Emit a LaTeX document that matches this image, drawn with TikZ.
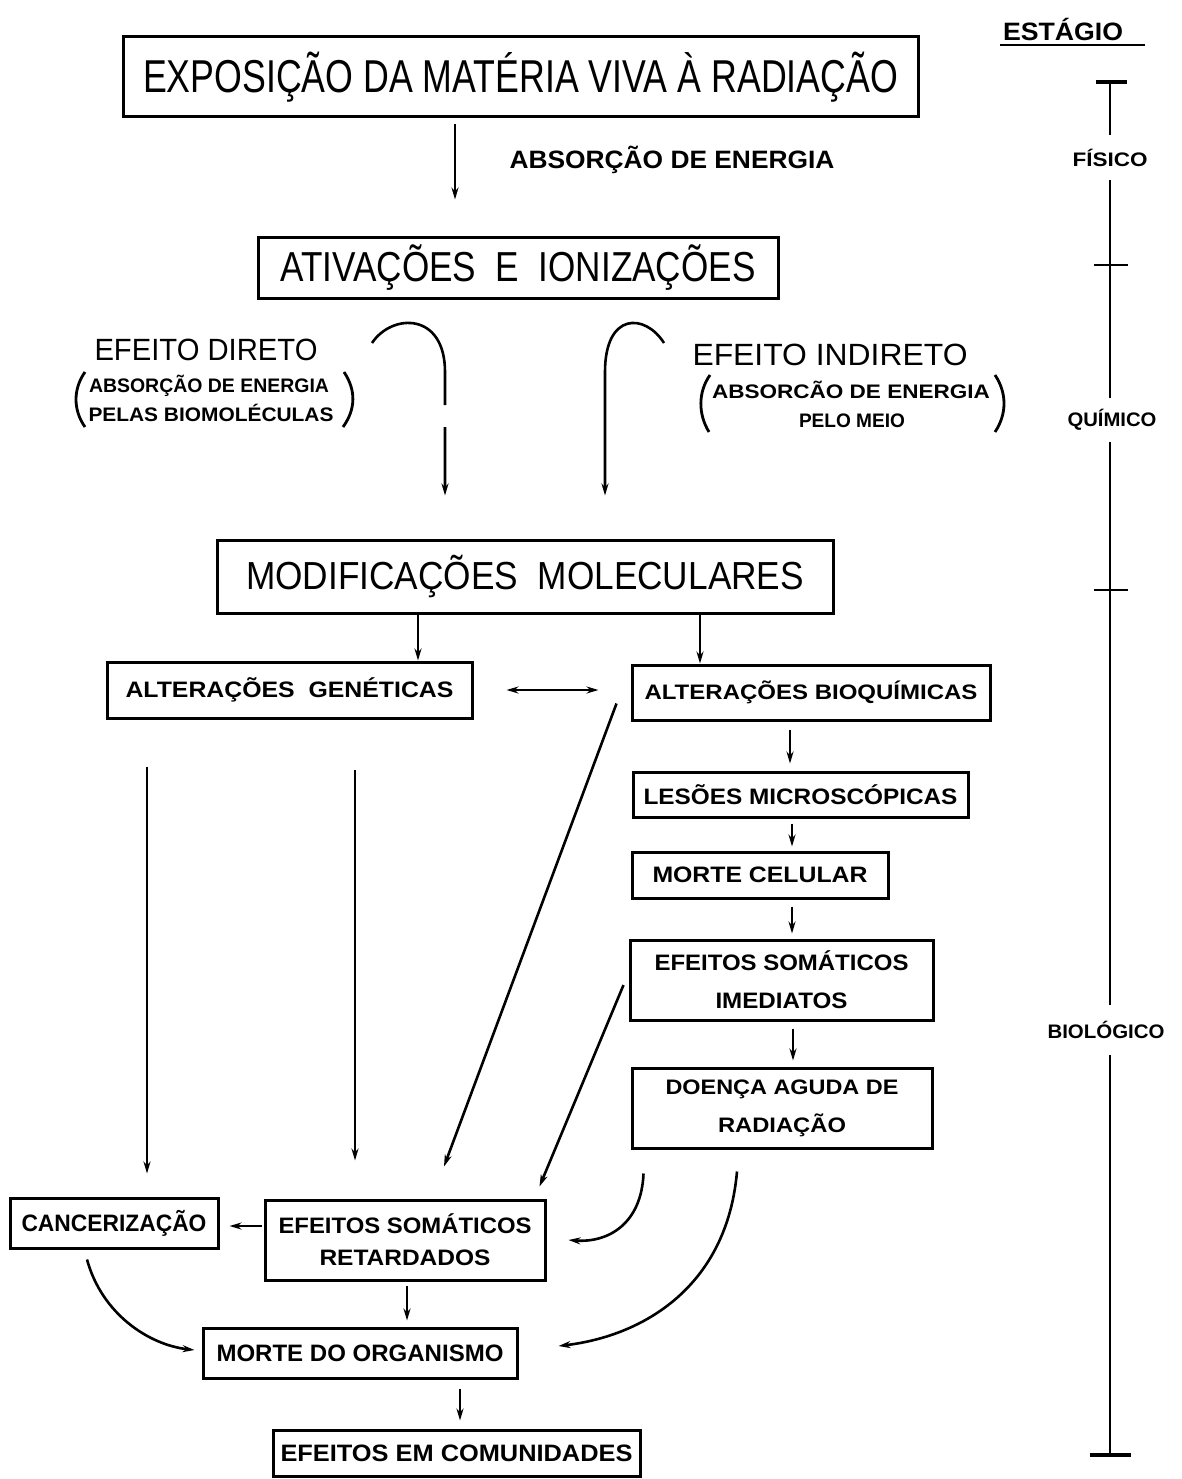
\documentclass[tikz,border=0pt]{standalone}
\usepackage{fontspec}
\setmainfont{Liberation Sans}
\usepackage{graphicx}
\usetikzlibrary{arrows.meta,calc}

% \lbl{cap height}{target width}{text}: sets the text so that its capitals
% have the given height and squeezes it horizontally to the given width
\newsavebox\lblbox
\newcommand\lbl[3]{{\fontsize{\fpeval{round(#1/0.716,2)}}{\fpeval{round(#1/0.716*1.2,2)}}\selectfont
  \sbox\lblbox{#3}\pgfmathsetmacro\lblratio{#2/\the\wd\lblbox}%
  \scalebox{\lblratio}[1]{\usebox\lblbox}}}

\begin{document}
\begin{tikzpicture}[x=1pt,y=-1pt,
  box/.style={draw, line width=3pt, inner sep=0pt, align=center},
  txt/.style={inner sep=0pt, align=center},
  line/.style={line width=2.8pt},
  arr/.style={line width=2.6pt, -{Stealth[length=12pt,width=7pt]}},
  darr/.style={line width=2.8pt, {Stealth[length=12pt,width=7pt]}-{Stealth[length=12pt,width=7pt]}},
  stage/.style={line width=2.6pt}]
\useasboundingbox (0,0) rectangle (1182,1479);

% ---------- boxes ----------
\node[box, minimum width=795pt, minimum height=80pt] (expo) at (520.5,77)
  {\lbl{33}{755}{EXPOSIÇÃO DA MATÉRIA VIVA À RADIAÇÃO}};
\node[txt] (absorb) at (672,160) {\lbl{18}{325}{\bfseries ABSORÇÃO DE ENERGIA}};
\node[box, minimum width=520pt, minimum height=60pt] (ativ) at (518,268)
  {\lbl{30}{475}{ATIVAÇÕES\ \ E\ \ IONIZAÇÕES}};

\node[txt] (dirT) at (206,350) {\lbl{22}{223}{EFEITO DIRETO}};
\node[txt] (dirA) at (209,386) {\lbl{14}{240}{\bfseries ABSORÇÃO DE ENERGIA}};
\node[txt] (dirB) at (211,413) {\lbl{14}{245}{\bfseries PELAS BIOMOLÉCULAS}};
\node[txt] (indT) at (830,355) {\lbl{22}{275}{EFEITO INDIRETO}};
\node[txt] (indA) at (851,390) {\lbl{14}{278}{\bfseries ABSORCÃO DE ENERGIA}};
\node[txt] (indB) at (852,421) {\lbl{14}{106}{\bfseries PELO MEIO}};

\node[box, minimum width=616pt, minimum height=73pt] (modif) at (525,576.5)
  {\lbl{28}{558}{MODIFICAÇÕES\ \ MOLECULARES}};
\node[box, minimum width=365pt, minimum height=56pt] (altgen) at (289.5,690)
  {\lbl{16}{328}{\bfseries ALTERAÇÕES\ \ GENÉTICAS}};
\node[box, minimum width=358pt, minimum height=55pt] (altbio) at (811,692.5)
  {\lbl{15}{333}{\bfseries ALTERAÇÕES BIOQUÍMICAS}};
\node[box, minimum width=335pt, minimum height=45pt] (lesoes) at (800.5,794.5)
  {\lbl{16}{314}{\bfseries LESÕES MICROSCÓPICAS}};
\node[box, minimum width=256pt, minimum height=46pt] (mortecel) at (760,875)
  {\lbl{16}{215}{\bfseries MORTE CELULAR}};
\node[box, minimum width=303pt, minimum height=80pt, font=\fontsize{20}{38}\selectfont] (imed) at (781.5,980)
  {\lbl{16}{254}{\bfseries EFEITOS SOMÁTICOS}\\\lbl{16}{132}{\bfseries IMEDIATOS}};
\node[box, minimum width=300pt, minimum height=80pt, font=\fontsize{20}{38}\selectfont] (doenca) at (782,1108)
  {\lbl{15}{233}{\bfseries DOENÇA AGUDA DE}\\\lbl{15}{128}{\bfseries RADIAÇÃO}};
\node[box, minimum width=208pt, minimum height=50pt] (cancer) at (114,1223)
  {\lbl{17}{185}{\bfseries CANCERIZAÇÃO}};
\node[box, minimum width=280pt, minimum height=80pt, font=\fontsize{20}{32}\selectfont] (retard) at (405,1240)
  {\lbl{16}{253}{\bfseries EFEITOS SOMÁTICOS}\\\lbl{16}{171}{\bfseries RETARDADOS}};
\node[box, minimum width=314pt, minimum height=50pt] (morteorg) at (360,1353)
  {\lbl{17}{287}{\bfseries MORTE DO ORGANISMO}};
\node[box, minimum width=367pt, minimum height=46pt] (comun) at (456.5,1453)
  {\lbl{17}{352}{\bfseries EFEITOS EM COMUNIDADES}};

% ---------- parentheses round the effect notes ----------
\draw[line] (85,372) .. controls (73,389) and (73,410) .. (85,427);
\draw[line] (344,372) .. controls (356,390) and (356,409) .. (343,427);
\draw[line] (710,375) .. controls (698,392) and (698,414) .. (709,432);
\draw[line] (995,375) .. controls (1007,393) and (1007,414) .. (995,432);

% ---------- connectors ----------
\draw[arr] ($(expo.south)+(-65.5,6)$) -- ($(ativ.north)+(-63,-37)$);

\coordinate (dirS) at (372,343);
\coordinate (dirJ) at (445,372);
\coordinate (dirG) at (445,405);
\coordinate (dirR) at (445,427);
\draw[arr] (dirS) .. controls +(20,-30) and +(0,-60) .. (dirJ) -- (dirG)
           (dirR) -- ($(modif.north)+(-80,-43)$);
\coordinate (indS) at (664,343);
\coordinate (indJ) at (605,372);
\draw[arr] (indS) .. controls +(-19,-30) and +(0,-60) .. (indJ)
           -- ($(modif.north)+(80,-43)$);

\draw[arr] ($(modif.south)+(-107,0)$) -- ($(altgen.north)+(128.5,0)$);
\draw[arr] ($(modif.south)+(175,0)$) -- ($(altbio.north)+(-111,0)$);
\draw[darr] ($(altgen.east)+(33,0)$) -- ($(altbio.west)+(-32,-2.5)$);

\draw[arr] ($(altbio.south)+(-21,8)$) -- ($(lesoes.north)+(-10.5,-7)$);
\draw[arr] ($(lesoes.south)+(-8.5,5)$) -- ($(mortecel.north)+(32,-4)$);
\draw[arr] ($(mortecel.south)+(32,7)$) -- ($(imed.north)+(10.5,-5)$);
\draw[arr] ($(imed.south)+(11.5,7)$) -- ($(doenca.north)+(11,-6)$);

\draw[arr] ($(altgen.south)+(-142.5,47)$) -- ($(cancer.north)+(33,-23)$);
\draw[arr] ($(altgen.south)+(65.5,50)$) -- ($(retard.north)+(-50,-38)$);
\draw[arr] ($(altbio.west)+(-14,11)$) -- ($(retard.north)+(39,-32)$);
\draw[arr] ($(imed.west)+(-5,5)$) -- ($(retard.north east)+(-7,-12)$);

\draw[arr] ($(doenca.south west)+(13,24)$) .. controls +(-2,50) and +(40,3) .. ($(retard.east)+(22,0)$);
\draw[arr] ($(doenca.south)+(-45,22)$) .. controls +(-10,115) and +(85,-10) .. ($(morteorg.east)+(40,-7)$);
\draw[arr] ($(retard.west)+(-2,-14)$) -- ($(cancer.east)+(10,3)$);
\draw[arr] ($(cancer.south)+(-27,10)$) .. controls +(15,55) and +(-45,-5) .. ($(morteorg.west)+(-7,-3)$);
\draw[arr] ($(retard.south)+(2,4)$) -- ($(morteorg.north)+(47,-6)$);
\draw[arr] ($(morteorg.south)+(100,9)$) -- ($(comun.north)+(3.5,-8)$);

% ---------- stage scale ----------
\node[txt] (estagio) at (1063,29) {\lbl{18}{120}{\bfseries ESTÁGIO}};
\draw[line] (1000,45) -- (1145,45);
\node[txt] (fis) at (1110,158) {\lbl{14}{75}{\bfseries FÍSICO}};
\node[txt] (qui) at (1112,420) {\lbl{14}{89}{\bfseries QUÍMICO}};
\node[txt] (bio) at (1106,1030) {\lbl{14}{117}{\bfseries BIOLÓGICO}};
\coordinate (st0) at (1110,82);
\coordinate (st1) at (1110,1455);
\draw[stage] (st0) -- (1110,135) (1110,180) -- (1110,398)
             (1110,442) -- (1110,1005) (1110,1055) -- (st1);
\draw[line width=3.4pt] (1096,82) -- (1127,82);
\draw[stage] (1094,265) -- (1128,265);
\draw[stage] (1094,590) -- (1128,590);
\draw[line width=3.4pt] (1090,1455) -- (1131,1455);
\end{tikzpicture}
\end{document}
